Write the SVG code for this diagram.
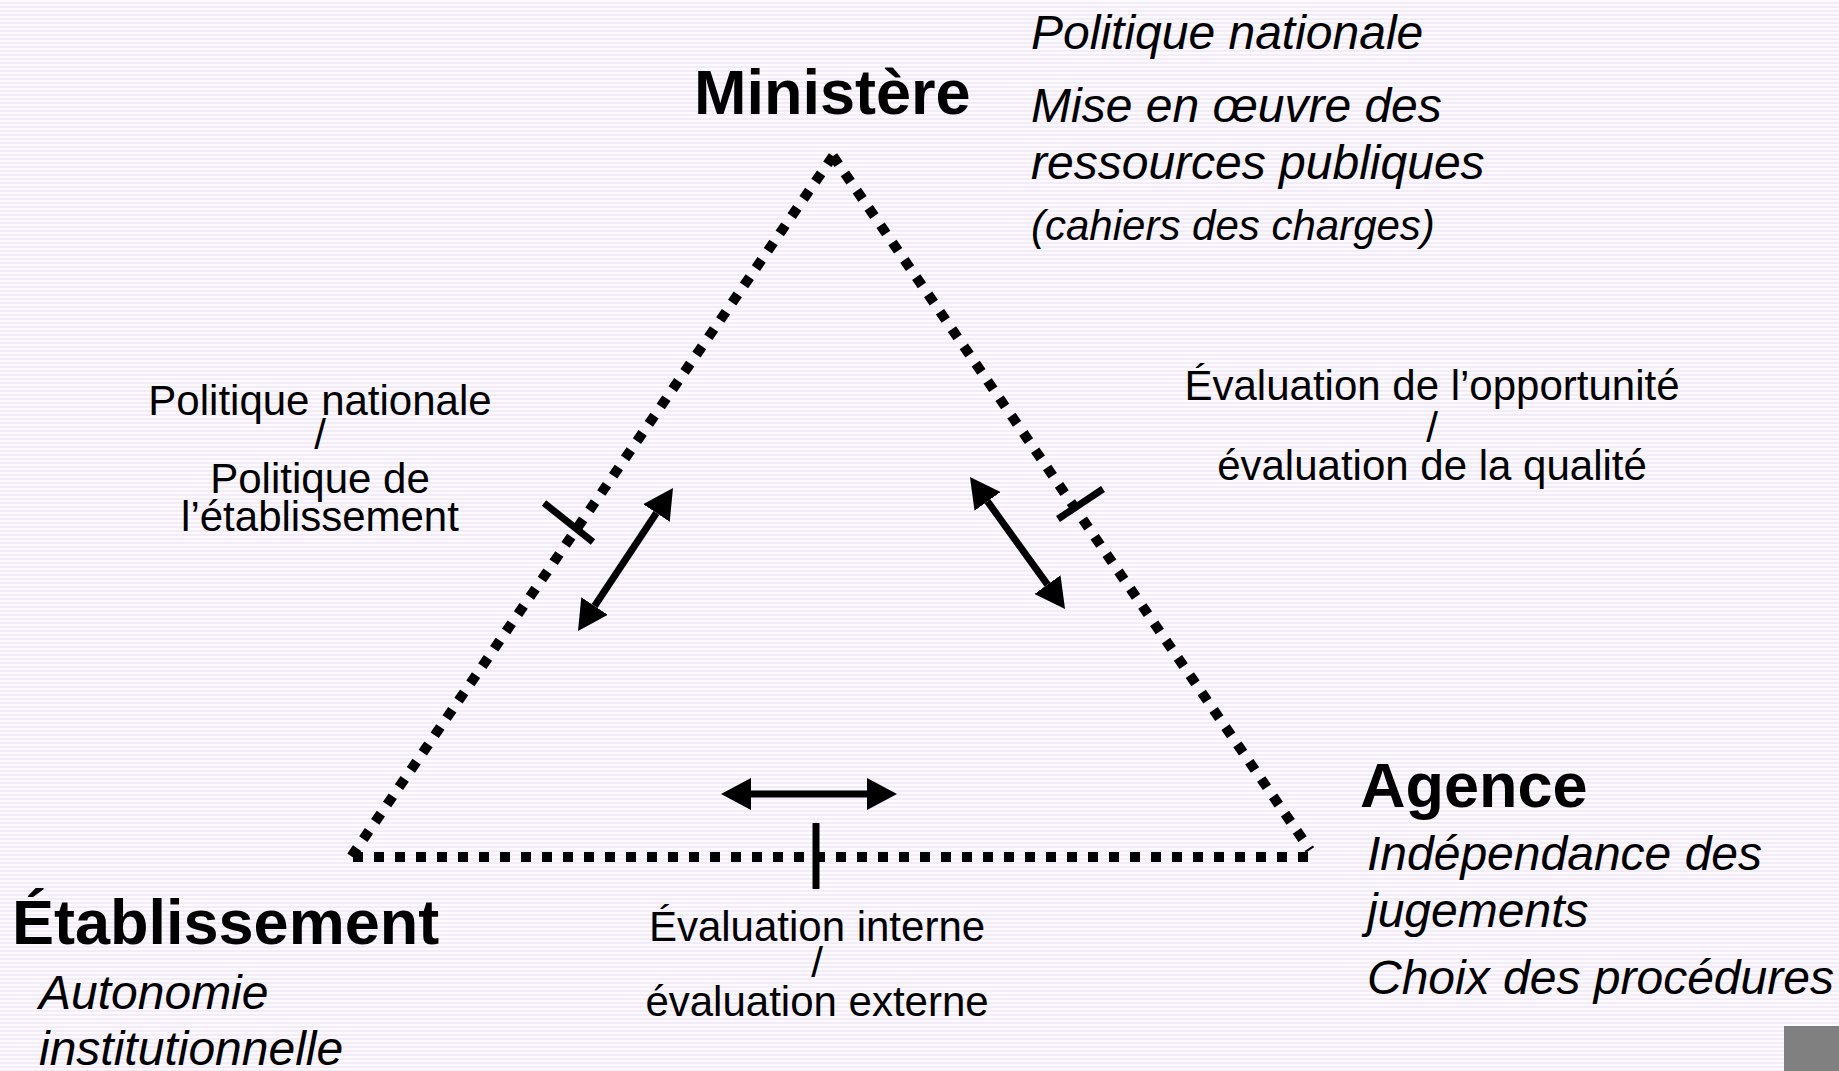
<svg xmlns="http://www.w3.org/2000/svg" width="1839" height="1071" viewBox="0 0 1839 1071">
  <defs>
    <pattern id="stripes" x="0" y="0" width="8" height="4" patternUnits="userSpaceOnUse">
      <rect width="8" height="4" fill="#FCF9FF"/>
      <rect y="2" width="8" height="2" fill="#F2EBF8"/>
    </pattern>
    <marker id="head" markerUnits="userSpaceOnUse" viewBox="0 0 30 32" markerWidth="30" markerHeight="32" refX="0" refY="16" orient="auto-start-reverse">
      <path d="M0,0 L30,16 L0,32 Z" fill="#000"/>
    </marker>
    <style>
      .edge { stroke: #000; stroke-width: 10; stroke-dasharray: 10 11; fill: none; }
      .tick { stroke: #000; stroke-width: 7; }
      .arrow { stroke: #000; stroke-width: 7; marker-start: url(#head); marker-end: url(#head); }
      .title { font-family: "Liberation Sans", Arial, sans-serif; font-weight: bold; font-size: 63px; fill: #000; }
      .desc { font-family: "Liberation Sans", Arial, sans-serif; font-style: italic; font-size: 48px; fill: #000; }
      .desc-sm { font-family: "Liberation Sans", Arial, sans-serif; font-style: italic; font-size: 42px; fill: #000; }
      .lbl { font-family: "Liberation Sans", Arial, sans-serif; font-size: 42px; fill: #000; text-anchor: middle; }
    </style>
  </defs>
  <rect width="1839" height="1071" fill="url(#stripes)"/>
  <rect x="1784" y="1026" width="55" height="45" fill="#808080"/>

  <g id="connectors">
    <line class="edge" x1="833" y1="156" x2="351" y2="857"/>
    <line class="edge" x1="833" y1="156" x2="1310" y2="850"/>
    <line class="edge" x1="353" y1="857" x2="1312" y2="857"/>
    <line class="tick" x1="544" y1="503" x2="593" y2="542"/>
    <line class="tick" x1="1058" y1="519" x2="1103" y2="489"/>
    <line class="tick" x1="816" y1="823" x2="816" y2="889"/>
    <line class="arrow" x1="594.6" y1="606" x2="656.4" y2="513"/>
    <line class="arrow" x1="987.5" y1="501.4" x2="1047.5" y2="584.6"/>
    <line class="arrow" x1="751" y1="794" x2="867" y2="794"/>
  </g>

  <g id="ministere">
    <text class="title" x="694" y="114">Ministère</text>
    <text class="desc" x="1031" y="49">Politique nationale</text>
    <text class="desc" x="1031" y="122">Mise en œuvre des</text>
    <text class="desc" x="1031" y="179">ressources publiques</text>
    <text class="desc-sm" x="1031" y="240">(cahiers des charges)</text>
  </g>

  <g id="etablissement">
    <text class="title" x="12" y="944">Établissement</text>
    <text class="desc" x="39" y="1009">Autonomie</text>
    <text class="desc" x="39" y="1065">institutionnelle</text>
  </g>

  <g id="agence">
    <text class="title" x="1360" y="807">Agence</text>
    <text class="desc" x="1367" y="870">Indépendance des</text>
    <text class="desc" x="1367" y="927">jugements</text>
    <text class="desc" x="1367" y="994">Choix des procédures</text>
  </g>

  <g id="label-left">
    <text class="lbl" x="320" y="415">Politique nationale</text>
    <text class="lbl" x="320" y="449">/</text>
    <text class="lbl" x="320" y="493">Politique de</text>
    <text class="lbl" x="320" y="531">l’établissement</text>
  </g>

  <g id="label-right">
    <text class="lbl" x="1432" y="400">Évaluation de l’opportunité</text>
    <text class="lbl" x="1432" y="442">/</text>
    <text class="lbl" x="1432" y="480">évaluation de la qualité</text>
  </g>

  <g id="label-bottom">
    <text class="lbl" x="817" y="941">Évaluation interne</text>
    <text class="lbl" x="817" y="977">/</text>
    <text class="lbl" x="817" y="1016">évaluation externe</text>
  </g>
</svg>
